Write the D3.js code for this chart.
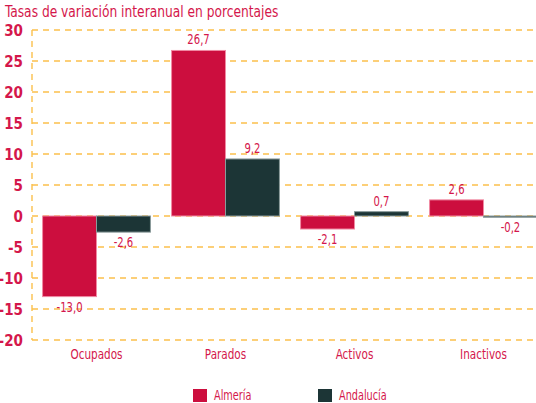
<!DOCTYPE html>
<html>
<head>
<meta charset="utf-8">
<script src="https://cdn.jsdelivr.net/npm/d3@7"></script>
<style>
  body { margin: 0; background: #fff; }
  text { font-family: "DejaVu Sans Condensed", "DejaVu Sans", sans-serif; }
</style>
</head>
<body>
<svg id="chart" width="536" height="403"></svg>
<script>
const categories = ['Ocupados', 'Parados', 'Activos', 'Inactivos'];
const series = ['Almería', 'Andalucía'];
const almeria = [-13.0, 26.7, -2.1, 2.6];
const andalucia = [-2.6, 9.2, 0.7, -0.2];
const yTicks = [30, 25, 20, 15, 10, 5, 0, -5, -10, -15, -20];

const colors = { 'Almería': '#cc0e3e', 'Andalucía': '#1c3536' };
const strokes = { 'Almería': '#f08aa3', 'Andalucía': '#8a9a9a' };
const red = '#d4174b';
const gridColor = '#fbc04c';

const svg = d3.select('#chart');
const left = 32;
const step = 129;

const x0 = d3.scaleBand()
    .domain(categories)
    .range([left, left + step * categories.length])
    .paddingInner(0.164)
    .paddingOuter(0.082);

const x1 = d3.scaleBand()
    .domain(series)
    .range([0, x0.bandwidth()]);

const y = d3.scaleLinear()
    .domain([-20, 30])
    .range([340, 30]);

// text placed at (x, y) and squeezed horizontally to mimic the condensed font
function narrowText(sel, x, yy, k) {
    return sel.attr('transform', (d, i) => {
        const px = typeof x === 'function' ? x(d, i) : x;
        const py = typeof yy === 'function' ? yy(d, i) : yy;
        return `translate(${px},${py}) scale(${k},1)`;
    });
}

// title
narrowText(svg.append('text'), 5, 17, 0.88)
    .attr('fill', red)
    .attr('font-size', 15.5)
    .text('Tasas de variación interanual en porcentajes');

// grid
svg.selectAll('.grid')
    .data(yTicks)
    .enter()
    .append('line')
    .attr('x1', left)
    .attr('x2', 536)
    .attr('y1', (d) => Math.round(y(d)))
    .attr('y2', (d) => Math.round(y(d)))
    .attr('stroke', gridColor)
    .attr('stroke-width', 1.4)
    .attr('stroke-dasharray', '6,5');

svg.append('line')
    .attr('x1', left)
    .attr('x2', left)
    .attr('y1', y(30))
    .attr('y2', y(-20))
    .attr('stroke', gridColor)
    .attr('stroke-width', 1.4)
    .attr('stroke-dasharray', '6,5');

// y tick labels
svg.selectAll('.ytick')
    .data(yTicks)
    .enter()
    .append('text')
    .attr('x', 23)
    .attr('y', (d) => y(d) + 6)
    .attr('text-anchor', 'end')
    .attr('fill', red)
    .attr('font-weight', 'bold')
    .attr('font-size', 15)
    .text((d) => d);

const rows = [];
categories.forEach((c, i) => {
    rows.push({ cat: c, s: 'Almería', v: almeria[i] });
    rows.push({ cat: c, s: 'Andalucía', v: andalucia[i] });
});

svg.selectAll('.bar')
    .data(rows)
    .enter()
    .append('rect')
    .attr('x', (d) => x0(d.cat) + x1(d.s))
    .attr('y', (d) => y(Math.max(0, d.v)))
    .attr('width', x1.bandwidth())
    .attr('height', (d) => Math.abs(y(d.v) - y(0)))
    .attr('fill', (d) => colors[d.s])
    .attr('stroke', (d) => strokes[d.s])
    .attr('stroke-width', 1);

const fmt = (v) => v.toFixed(1).replace('.', ',');

narrowText(
    svg.selectAll('.val').data(rows).enter().append('text'),
    (d) => x0(d.cat) + x1(d.s) + x1.bandwidth() / 2,
    (d) => (d.v >= 0 ? y(d.v) - 6 : y(d.v) + 15),
    0.8
)
    .attr('text-anchor', 'middle')
    .attr('fill', red)
    .attr('font-size', 14)
    .text((d) => fmt(d.v));

// category labels
narrowText(
    svg.selectAll('.cat').data(categories).enter().append('text'),
    (d) => x0(d) + x0.bandwidth() / 2,
    359,
    0.8
)
    .attr('text-anchor', 'middle')
    .attr('fill', red)
    .attr('font-size', 14.5)
    .text((d) => d);

// legend
const legendX = [193, 318];
series.forEach((s, i) => {
    svg.append('rect')
        .attr('x', legendX[i])
        .attr('y', 389)
        .attr('width', 14)
        .attr('height', 13)
        .attr('fill', colors[s]);
    narrowText(svg.append('text'), legendX[i] + 21, 400, 0.8)
        .attr('fill', red)
        .attr('font-size', 13.5)
        .text(s);
});
</script>
</body>
</html>
